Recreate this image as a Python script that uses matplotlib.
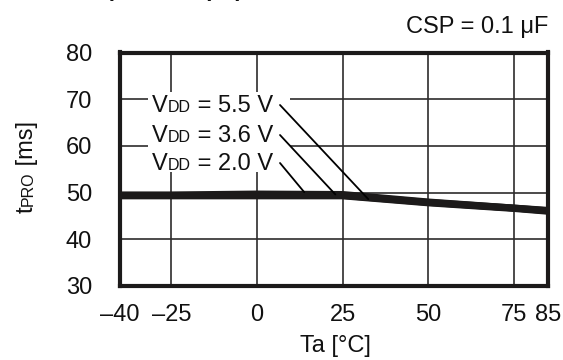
import matplotlib
matplotlib.use("Agg")
import matplotlib.pyplot as plt
from matplotlib.transforms import IdentityTransform
from matplotlib.patches import Rectangle

plt.rcParams['font.family'] = ['Liberation Sans', 'DejaVu Sans']

# ---- data ----
temps = [-40, -25, 0, 25, 50, 75, 85]
t_vdd55 = [49.3, 49.3, 49.3, 49.3, 47.8, 46.6, 46.0]
t_vdd36 = [49.4, 49.4, 49.4, 49.4, 47.9, 46.7, 46.1]
t_vdd20 = [49.5, 49.5, 49.7, 49.6, 48.0, 46.7, 46.2]
series_labels = ["5.5", "3.6", "2.0"]
# leader line end points on the curves (Ta, tPRO)
leader_ends = [(32.5, 48.6), (22.9, 49.6), (13.8, 50.1)]
xticks = [-40, -25, 0, 25, 50, 75, 85]
xtick_labels = ["\u201340", "\u201325", "0", "25", "50", "75", "85"]
yticks = [30, 40, 50, 60, 70, 80]

W, H = 563, 360
INK = '#1c1a1a'
fs = 17

fig = plt.figure(figsize=(W / 100, H / 100), dpi=100)
ax = fig.add_axes([120 / W, 1 - 286 / H, (548 - 120) / W, (286 - 52.5) / H])
ax.set_xlim(-40, 85)
ax.set_ylim(30, 80)
ax.set_xticks(xticks)
ax.set_xticklabels(xtick_labels)
ax.set_yticks(yticks)
ax.tick_params(length=0, labelsize=fs, labelcolor='#111111')
ax.tick_params(axis='x', pad=13)
ax.tick_params(axis='y', pad=20)
ax.grid(True, color='#2e2c2c', linewidth=1.2)
ax.set_axisbelow(True)
for s in ax.spines.values():
    s.set_linewidth(3.0)
    s.set_color(INK)

for ys in (t_vdd55, t_vdd36, t_vdd20):
    ax.plot(temps, ys, color=INK, linewidth=5.0, solid_capstyle='butt', zorder=3)

# white background behind the labels (interrupts grid lines)
ax.add_patch(Rectangle((148, H - 172), 142, 80, transform=IdentityTransform(),
                       facecolor='white', edgecolor='none', zorder=2))

fig.canvas.draw()
r = fig.canvas.get_renderer()


def rich(x, y, segs, rotation=0, zorder=5):
    """Draw text segments (string, size) in display pixels, starting at baseline (x,y)."""
    arts = []
    for s, size in segs:
        t = fig.text(x, y, s, fontsize=size, transform=IdentityTransform(),
                     ha='left', va='baseline', rotation=rotation,
                     rotation_mode='anchor', zorder=zorder, color='#111111')
        bb = t.get_window_extent(r)
        if rotation == 0:
            x += bb.width
        else:
            y += bb.height
        arts.append(t)
    return arts


# series labels (baselines in display px from the bottom)
label_base_y = [H - 112, H - 142, H - 170]
for lab, by in zip(series_labels, label_base_y):
    rich(152, by, [("V", fs), ("DD", fs * 0.68), (" = %s V" % lab, fs)])

# leader lines from label ends to curves
for (ex, ey), by in zip(leader_ends, label_base_y):
    sx, sy = 280, by + 7
    ax.annotate("", xy=(ex, ey), xycoords='data', xytext=(sx, sy),
                textcoords=IdentityTransform(),
                arrowprops=dict(arrowstyle='-', color='black', lw=1.3,
                                shrinkA=0, shrinkB=0), zorder=5)

# y label tPRO [ms]
rich(33, H - 213, [("t", fs), ("PRO", fs * 0.68), (" [ms]", fs)], rotation=90)

# x label
fig.text(335, H - 352, "Ta [\u00b0C]", fontsize=fs, ha='center', va='baseline',
         color='#111111', transform=IdentityTransform())
# condition
fig.text(548, H - 33, "CSP = 0.1 \u03bcF", fontsize=fs, ha='right', va='baseline',
         color='#111111', transform=IdentityTransform())
# title, cut off at the top edge as in the reference
fig.text(243, H + 4, "tPRO vs. Temperature (Ta)", fontsize=16, fontweight='bold',
         ha='right', va='baseline', color='#111111', transform=IdentityTransform())

fig.savefig("out.png", dpi=100)
